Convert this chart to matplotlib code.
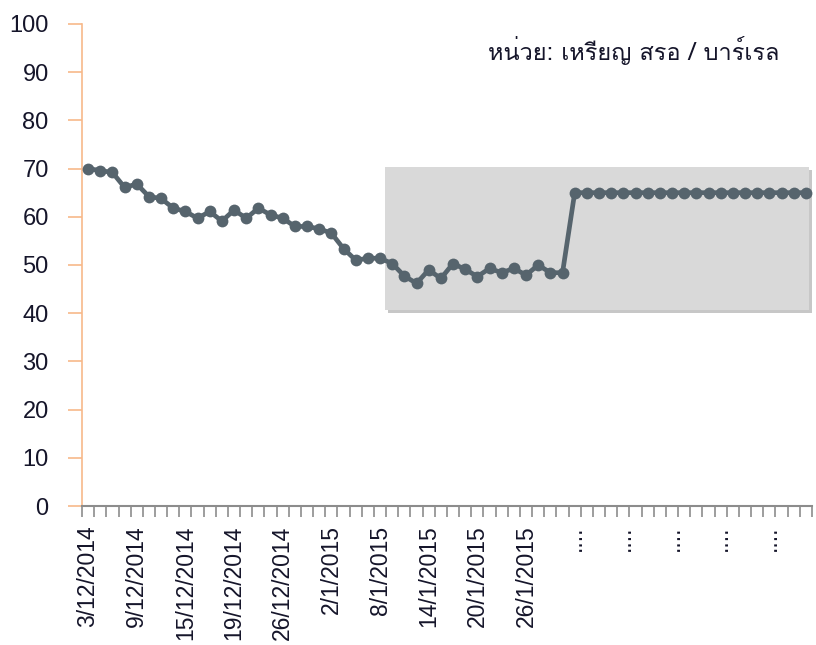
import matplotlib
matplotlib.use("Agg")
import matplotlib.pyplot as plt
import matplotlib.patches as mpatches
import matplotlib.patheffects as pe
from matplotlib import font_manager
from matplotlib.ft2font import FT2Font
import numpy as np

# ---- data ----
prices = [70.0, 69.6, 69.2, 66.1, 66.8, 64.2, 63.8, 61.8, 61.1, 59.7,
          61.1, 59.1, 61.4, 59.7, 61.8, 60.4, 59.7, 58.0, 58.0, 57.5,
          56.6, 53.4, 51.0, 51.4, 51.4, 50.3, 47.7, 46.2, 49.0, 47.2,
          50.3, 49.1, 47.6, 49.3, 48.4, 49.3, 47.9, 50.0, 48.4, 48.4,
          65.0, 65.0, 65.0, 65.0, 65.0, 65.0, 65.0, 65.0, 65.0, 65.0,
          65.0, 65.0, 65.0, 65.0, 65.0, 65.0, 65.0, 65.0, 65.0, 65.0]
tick_labels = ["3/12/2014", "9/12/2014", "15/12/2014", "19/12/2014", "26/12/2014",
               "2/1/2015", "8/1/2015", "14/1/2015", "20/1/2015", "26/1/2015",
               "....", "....", "....", "....", "...."]
label_every = 4
unit_text = "หน่วย: เหรียญ สรอ / บาร์เรล"
highlight_x = (24.4, 59.3)
highlight_y = (40.7, 70.3)

# ---- fonts ----
base_font = "Liberation Sans"

def find_thai_font():
    for f in font_manager.fontManager.ttflist:
        try:
            ft = FT2Font(f.fname)
            if 0x0E2B in ft.get_charmap():
                return f.name
        except Exception:
            pass
    return None

thai_font = find_thai_font()
thai_family = [thai_font, base_font] if thai_font else [base_font]

plt.rcParams["font.family"] = [base_font, "DejaVu Sans"]

fig = plt.figure(figsize=(8.16, 6.45), dpi=100)
ax = fig.add_axes([0.1005, 0.2155, 0.8945, 0.7473])

n = len(prices)
x = np.arange(n)

# highlight box with soft shadow
rect = mpatches.Rectangle((highlight_x[0], highlight_y[0]),
                          highlight_x[1] - highlight_x[0],
                          highlight_y[1] - highlight_y[0],
                          facecolor="#d9d9d9", edgecolor="none", zorder=1,
                          path_effects=[pe.SimplePatchShadow(offset=(2, -2), shadow_rgbFace="#b0b0b0", alpha=0.7),
                                        pe.Normal()])
ax.add_patch(rect)

ax.plot(x, prices, color="#56646d", linewidth=3.4, marker="o", markersize=8.5,
        markeredgewidth=0, zorder=3)

ax.set_xlim(-0.5, n - 0.5)
ax.set_ylim(0, 100)
ax.set_yticks(np.arange(0, 101, 10))

# x ticks: boundaries as minor ticks, labels at major ticks without marks
ax.set_xticks(np.arange(-0.5, n, 1.0), minor=True)
ax.set_xticks(np.arange(0, n, label_every))
ax.set_xticklabels(tick_labels, rotation=90, va="top", ha="center")
ax.tick_params(axis="x", which="major", length=0, pad=14, labelsize=16.5, labelcolor="#15152a")
ax.tick_params(axis="x", which="minor", length=8, width=1.2, color="#8c8c8c", direction="out")
ax.tick_params(axis="y", which="major", length=10, width=1.2, color="#f7b98a", direction="out",
               pad=14, labelsize=17, labelcolor="#15152a")

for s in ["top", "right"]:
    ax.spines[s].set_visible(False)
ax.spines["left"].set_color("#f7b98a")
ax.spines["left"].set_linewidth(1.2)
ax.spines["bottom"].set_color("#8c8c8c")
ax.spines["bottom"].set_linewidth(1.5)

ax.text(0.956, 0.946, unit_text, transform=ax.transAxes, ha="right", va="center",
        fontsize=17, color="#15152a", family=thai_family)

fig.savefig("out.png", dpi=100)
